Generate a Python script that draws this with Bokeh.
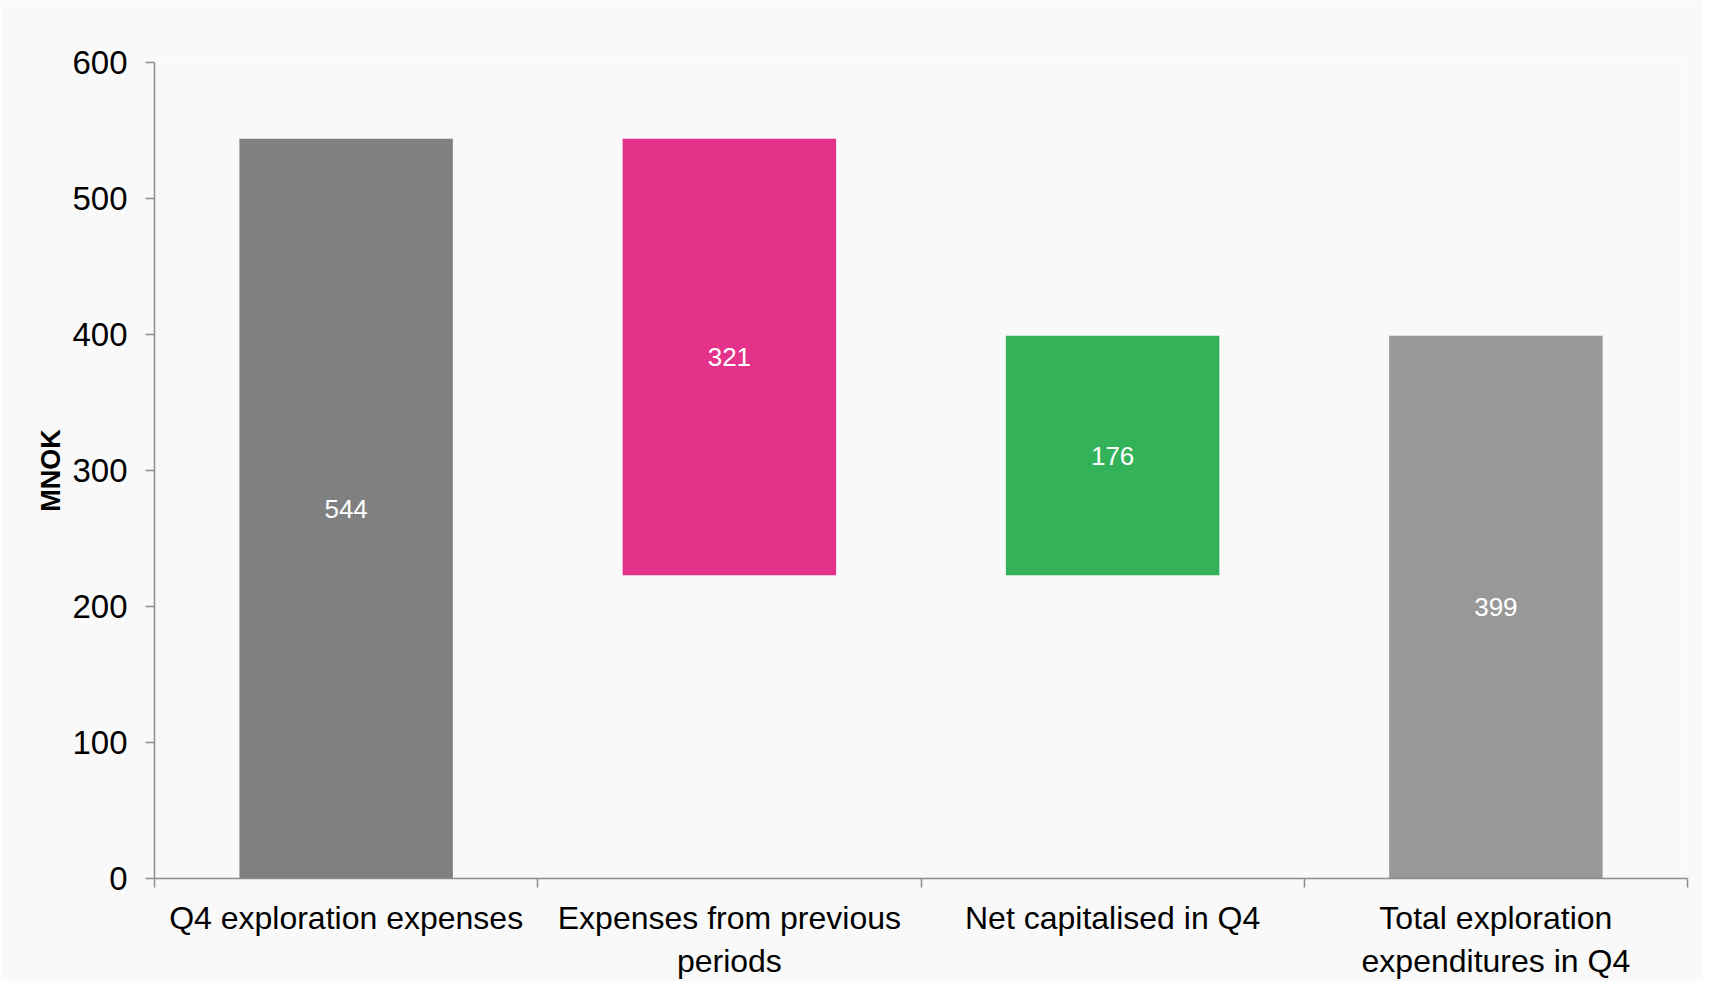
from bokeh.plotting import figure
from bokeh.models import FixedTicker, Range1d, ColumnDataSource
from bokeh.embed import file_html
from bokeh.resources import INLINE
from bokeh.core.properties import value

categories = ["Q4 exploration expenses", "Expenses from previous\nperiods",
              "Net capitalised in Q4", "Total exploration\nexpenditures in Q4"]
changes = [544, -321, 176, 399]
kinds = ["total", "delta", "delta", "total"]
bar_labels = ["544", "321", "176", "399"]
colors = ["#808080", "#e4318a", "#33b25a", "#989898"]
y_ticks = [0, 100, 200, 300, 400, 500, 600]

# waterfall geometry
bottoms, tops, centers = [], [], []
run = 0
for i, (v, k) in enumerate(zip(changes, kinds)):
    if k == "total":
        b, t = 0, v
        run = v
    else:
        b, t = min(run, run + v), max(run, run + v)
        run = run + v
    bottoms.append(b)
    tops.append(t)
    centers.append(i + 0.5)
mids = [(b + t) / 2 for b, t in zip(bottoms, tops)]

src = ColumnDataSource(dict(x=centers, bottom=bottoms, top=tops, color=colors,
                            mid=mids, label=bar_labels))

FONT = "Liberation Sans"
BG = "#f9f9f9"
AX = "#8c8c8c"

p = figure(width=1703, height=981, output_backend="svg", toolbar_location=None,
           x_range=Range1d(0, 4), y_range=Range1d(0, 600),
           min_border_left=154, min_border_right=16, min_border_top=62, min_border_bottom=102)
p.background_fill_color = BG
p.border_fill_color = BG
p.outline_line_color = None
p.grid.visible = False

p.vbar(x="x", width=0.557, bottom="bottom", top="top", color="color", source=src, line_color=None)
p.text(x="x", y="mid", text="label", source=src, text_color="white",
       text_align="center", text_baseline="middle", text_font=value(FONT),
       text_font_size="26px")

xa = p.xaxis[0]
xa.ticker = FixedTicker(ticks=centers, minor_ticks=[0, 1, 2, 3, 4])
xa.major_label_overrides = {c: lab for c, lab in zip(centers, categories)}
xa.major_tick_line_color = None
xa.minor_tick_in = 0
xa.minor_tick_out = 9
xa.minor_tick_line_color = AX
xa.minor_tick_line_width = 1.5
xa.axis_line_color = AX
xa.axis_line_width = 1.5
xa.major_label_text_font = FONT
xa.major_label_text_font_size = "32px"
xa.major_label_text_color = "black"
xa.major_label_standoff = 12

ya = p.yaxis[0]
ya.ticker = FixedTicker(ticks=y_ticks, minor_ticks=[])
ya.major_tick_in = 0
ya.major_tick_out = 9
ya.major_tick_line_color = AX
ya.major_tick_line_width = 1.5
ya.axis_line_color = AX
ya.axis_line_width = 1.5
ya.major_label_text_font = FONT
ya.major_label_text_font_size = "33px"
ya.major_label_text_color = "black"
ya.major_label_standoff = 18
ya.axis_label = "MNOK"
ya.axis_label_text_font = FONT
ya.axis_label_text_font_style = "bold"
ya.axis_label_text_font_size = "27px"
ya.axis_label_text_color = "black"
ya.axis_label_standoff = 3

open("out.html", "w").write(file_html(p, INLINE))
